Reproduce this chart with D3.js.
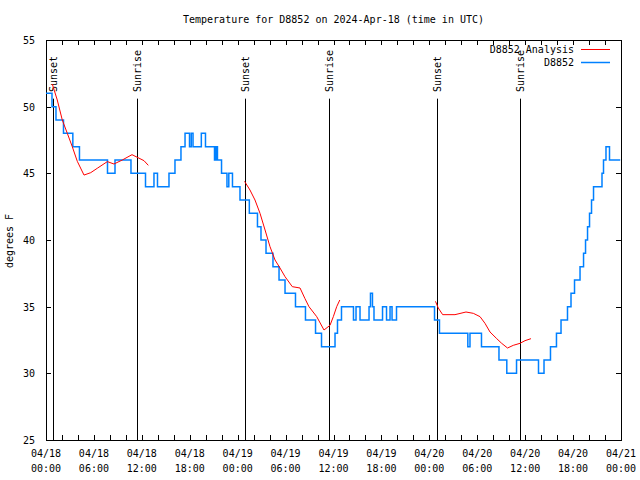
<!DOCTYPE html>
<html><head><meta charset="utf-8">
<script src="https://cdn.jsdelivr.net/npm/d3@7"></script>
<style>
body{margin:0;background:#fff}
svg text{font-family:"DejaVu Sans Mono","Liberation Mono",monospace;font-size:10px;fill:#000}
</style>
</head><body>
<svg id="chart" width="640" height="480"></svg>
<script>
// ---------- data ----------
const chartTitle = "Temperature for D8852 on 2024-Apr-18 (time in UTC)";
const yAxisLabel = "degrees F";
const seriesNames = ["D8852 Analysis", "D8852"];
const seriesColors = ["#ff0000", "#0080ff"];
const startUTC = Date.UTC(2024, 3, 18, 0, 0);   // 2024-04-18 00:00 UTC
const xRangeHours = [0, 72];
const yRange = [25, 55];
const yTickValues = [25, 30, 35, 40, 45, 50, 55];
const xTickHours = [0, 6, 12, 18, 24, 30, 36, 42, 48, 54, 60, 66, 72];
const xTickDays  = ["04/18","04/18","04/18","04/18","04/19","04/19","04/19","04/19","04/20","04/20","04/20","04/20","04/21"];
const xTickClock = ["00:00","06:00","12:00","18:00","00:00","06:00","12:00","18:00","00:00","06:00","12:00","18:00","00:00"];
const xMinorStepHours = 2;
const sunsetHours  = [0.88, 24.9, 48.96];
const sunriseHours = [11.4, 35.4, 59.4];

// observations (value holds from this hour until the next one)
const obsHours = [0,0.75,1.25,2.19,3.36,4.19,7.70,8.64,10.64,12.46,13.52,13.96,15.40,16.15,16.90,17.41,17.97,18.19,18.41,19.45,19.97,21.10,21.29,21.47,21.98,22.66,22.89,23.35,24.29,25.46,26.48,26.92,27.55,28.42,29.18,29.93,31.24,32.49,33.75,34.50,36.19,36.50,37.00,38.50,38.82,39.32,40.45,40.63,40.88,41.07,42.14,42.64,43.08,43.33,43.89,48.65,49.27,52.82,53.09,54.53,56.72,57.70,58.92,61.67,62.36,63.17,63.92,64.49,65.30,65.74,66.18,66.87,67.31,67.56,67.81,68.06,68.31,68.56,69.62,69.81,70.12,70.56,71.9];
const obsTemps = [51,50,49,48,47,46,45,46,45,44,45,44,45,46,47,48,47,48,47,48,47,46,47,46,45,44,45,44,43,42,41,40,39,38,37,36,35,34,33,32,33,34,35,34,35,34,35,36,35,34,35,34,35,34,35,34,33,32,33,32,31,30,31,30,31,32,33,34,35,36,37,38,39,40,41,42,43,44,45,46,47,46,46];

// analysis, one run per night
const analysis1Hours = [0.79,1.41,2.04,2.67,3.29,3.92,4.76,5.60,6.42,7.68,8.51,9.55,10.77,12.27,12.81];
const analysis1Temps = [51.7,50.5,49.0,48.0,47.0,45.9,44.87,45.05,45.38,45.88,45.7,46.0,46.4,45.95,45.6];
const analysis2Hours = [24.86,25.54,26.17,26.80,27.43,28.05,28.68,29.30,29.93,30.84,31.81,32.43,32.93,33.90,34.81,35.56,35.98,36.40,36.79];
const analysis2Temps = [44.4,43.75,43.0,42.0,40.75,39.5,38.5,37.9,37.25,36.5,36.4,35.6,35.0,34.25,33.25,33.6,34.25,35.0,35.5];
const analysis3Hours = [48.77,49.12,49.67,51.21,52.59,53.51,54.35,54.97,55.60,56.44,57.06,57.79,58.51,59.35,59.98,60.73];
const analysis3Temps = [35.4,34.9,34.4,34.4,34.6,34.5,34.25,33.75,33.1,32.6,32.25,31.9,32.1,32.25,32.45,32.6];

// ---------- drawing ----------
const H = 3600e3;
const toDate = h => new Date(startUTC + h * H);
const svg = d3.select("#chart");
const m = {left: 46, right: 621, top: 40, bottom: 440};

const x = d3.scaleUtc().domain(xRangeHours.map(toDate)).range([m.left, m.right]);
const y = d3.scaleLinear().domain(yRange).range([m.bottom, m.top]);

// title
svg.append("text").attr("x", (m.left + m.right) / 2).attr("y", 23)
  .attr("text-anchor", "middle").text(chartTitle);
// y label
svg.append("text").attr("transform", "translate(13,241) rotate(-90)")
  .attr("text-anchor", "middle").text(yAxisLabel);

const minorHours = d3.range(xRangeHours[0], xRangeHours[1] + 0.001, xMinorStepHours);

// axes via d3: bottom / top / left / right, ticks inward
const gx = svg.append("g").attr("transform", `translate(0,${m.bottom})`)
  .call(d3.axisBottom(x).tickValues(minorHours.map(toDate))
    .tickSize(-5).tickFormat(""));
const gxt = svg.append("g").attr("transform", `translate(0,${m.top})`)
  .call(d3.axisTop(x).tickValues(minorHours.map(toDate))
    .tickSize(-5).tickFormat(""));
const gy = svg.append("g").attr("transform", `translate(${m.left},0)`)
  .call(d3.axisLeft(y).tickValues(yTickValues).tickSize(-5).tickPadding(11).tickFormat(d3.format("d")));
const gyr = svg.append("g").attr("transform", `translate(${m.right},0)`)
  .call(d3.axisRight(y).tickValues(yTickValues).tickSize(-5).tickFormat(""));
[gx, gxt, gy, gyr].forEach(g => {
  g.select(".domain").remove();
  g.selectAll(".tick line").attr("stroke", "#000").attr("shape-rendering", "crispEdges");
});
gy.selectAll(".tick text").attr("font-family", null).attr("font-size", null)
  .attr("dy", "0.35em");

// two-line x labels
const xl = svg.append("g").selectAll("g").data(xTickHours).join("g")
  .attr("transform", d => `translate(${x(toDate(d))},0)`);
xl.append("text").attr("y", 457).attr("text-anchor", "middle").text((d, i) => xTickDays[i]);
xl.append("text").attr("y", 472).attr("text-anchor", "middle").text((d, i) => xTickClock[i]);

// plot border
svg.append("rect").attr("x", m.left + 0.5).attr("y", m.top + 0.5)
  .attr("width", m.right - m.left).attr("height", m.bottom - m.top)
  .attr("fill", "none").attr("stroke", "#000").attr("stroke-width", 1);

// sunrise / sunset markers
const markerTopValue = 50.6, markerLabelValue = 51.1;
const markers = sunsetHours.map(h => ({h, t: "Sunset"}))
  .concat(sunriseHours.map(h => ({h, t: "Sunrise"})));
svg.append("g").selectAll("line").data(markers).join("line")
  .attr("x1", d => Math.round(x(toDate(d.h))) + 0.5).attr("x2", d => Math.round(x(toDate(d.h))) + 0.5)
  .attr("y1", y(markerTopValue)).attr("y2", m.bottom)
  .attr("stroke", "#000").attr("stroke-width", 1);
svg.append("g").selectAll("text").data(markers).join("text")
  .attr("transform", d => `translate(${x(toDate(d.h)) + 0.5},${y(markerLabelValue)}) rotate(-90)`)
  .attr("dominant-baseline", "central").text(d => d.t);

// observations
const obs = obsHours.map((h, i) => ({d: toDate(h), v: obsTemps[i]}));
svg.append("path").datum(obs)
  .attr("d", d3.line().x(p => x(p.d)).y(p => y(p.v)).curve(d3.curveStepAfter))
  .attr("fill", "none").attr("stroke", seriesColors[1]).attr("stroke-width", 1.5);

// analysis
[[analysis1Hours, analysis1Temps], [analysis2Hours, analysis2Temps], [analysis3Hours, analysis3Temps]]
  .forEach(([hs, ts]) => {
    svg.append("path").datum(hs.map((h, i) => ({d: toDate(h), v: ts[i]})))
      .attr("d", d3.line().x(p => x(p.d)).y(p => y(p.v)))
      .attr("fill", "none").attr("stroke", seriesColors[0]).attr("stroke-width", 1);
  });

// legend
const lg = svg.append("g");
seriesNames.forEach((name, i) => {
  const yy = 49.5 + i * 13;
  lg.append("text").attr("x", 574).attr("y", yy).attr("dy", "0.35em")
    .attr("text-anchor", "end").text(name);
  lg.append("line").attr("x1", 581).attr("x2", 610).attr("y1", yy).attr("y2", yy)
    .attr("stroke", seriesColors[i]).attr("stroke-width", i === 0 ? 1 : 1.5);
});
</script>
</body></html>
